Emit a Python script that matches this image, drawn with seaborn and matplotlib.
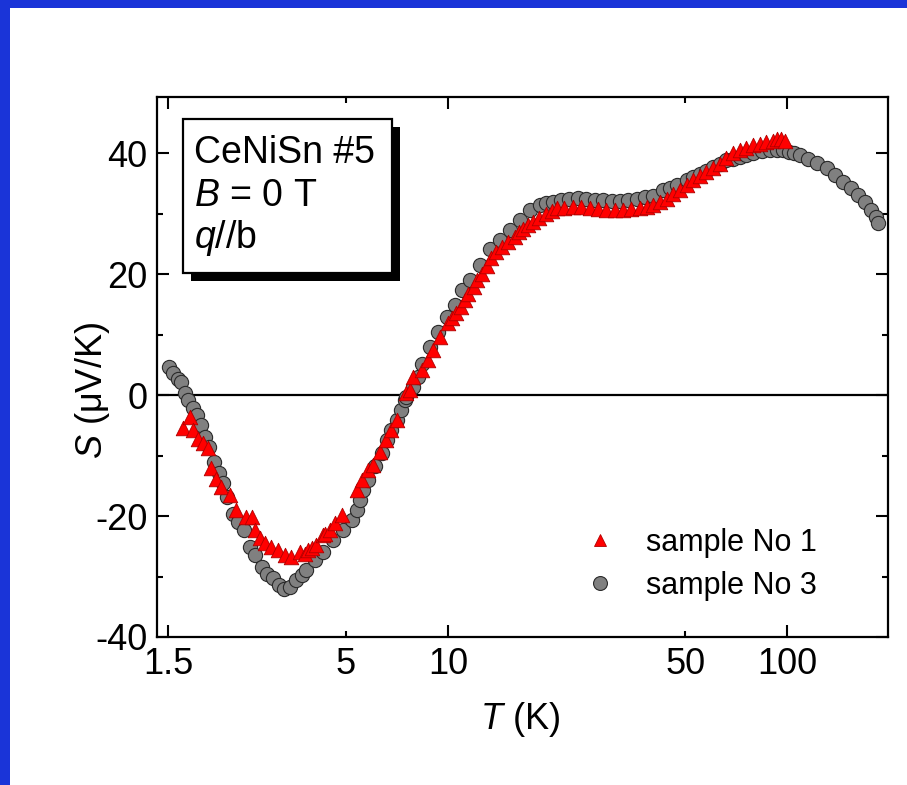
import numpy as np
import pandas as pd
import matplotlib
matplotlib.use("Agg")
import matplotlib.pyplot as plt
from matplotlib.patches import Rectangle
from matplotlib.lines import Line2D
from matplotlib.ticker import FixedLocator, FixedFormatter, NullFormatter
import seaborn as sns

# ---------------- data ----------------
T_s3 = [1.51, 1.55, 1.60, 1.64, 1.68, 1.72, 1.78, 1.82, 1.87, 1.92, 1.98, 2.05, 2.11,
        2.18, 2.24, 2.32, 2.41, 2.51, 2.61, 2.71, 2.83, 2.93, 3.06, 3.17, 3.28, 3.43,
        3.58, 3.71, 3.83, 4.06, 4.29, 4.59, 4.92, 5.21, 5.38, 5.51, 5.63, 5.82, 6.09,
        6.38, 6.60, 6.82, 7.06, 7.30, 7.47, 7.55, 7.90, 8.18, 8.37, 8.85, 9.36, 9.91,
        10.5, 10.97, 11.6, 12.4, 13.3, 14.2, 15.2, 16.3, 17.4, 18.7, 19.5, 20.4, 21.5,
        22.8, 24.2, 25.6, 27.1, 28.7, 30.4, 32.2, 34.0, 36.0, 38.1, 40.3, 43.1, 45.1,
        47.2, 50.5, 52.8, 55.2, 57.8, 60.5, 63.3, 66.2, 69.3, 72.5, 75.7, 79.0, 84.0,
        89.0, 93.0, 97.3, 101.3, 105.0, 108.8, 115.4, 122.0, 130.5, 138.0, 146.0,
        154.0, 161.0, 169.0, 177.0, 183.0, 185.0]
S_s3 = [4.6, 3.6, 2.6, 2.2, 0.3, -0.8, -2.2, -3.3, -5.0, -6.9, -8.5, -11.0, -12.9,
        -14.6, -16.8, -19.6, -20.9, -22.3, -25.1, -26.4, -28.4, -29.5, -30.3, -31.4, -32.1, -31.7,
        -30.6, -29.8, -28.9, -27.3, -25.9, -24.0, -22.3, -20.7, -19.0, -17.4, -15.7, -14.0, -11.8,
        -9.6, -7.4, -5.8, -4.1, -2.5, -0.8, -0.3, 1.4, 3.0, 5.2, 8.0, 10.5, 12.9,
        14.9, 17.4, 19.0, 21.5, 24.2, 25.6, 27.3, 28.9, 30.6, 31.4, 31.7, 31.9, 32.2,
        32.5, 32.6, 32.5, 32.3, 32.2, 32.1, 32.1, 32.3, 32.5, 32.7, 32.9, 34.0, 34.3,
        34.7, 35.5, 36.0, 36.6, 37.1, 37.7, 38.3, 38.8, 39.1, 39.3, 39.7, 40.0, 40.3,
        40.5, 40.5, 40.5, 40.2, 40.0, 39.7, 39.1, 38.4, 37.5, 36.4, 35.3,
        34.2, 33.1, 31.9, 30.6, 29.5, 28.4]

T_s1 = [1.66, 1.74, 1.78, 1.84, 1.90, 1.96, 2.01, 2.08, 2.15, 2.28, 2.38, 2.55, 2.64,
        2.70, 2.79, 2.89, 3.02, 3.16, 3.31, 3.46, 3.66, 3.79, 3.88, 3.97, 4.10, 4.29,
        4.34, 4.49, 4.65, 4.86, 5.38, 5.57, 5.82, 6.02, 6.30, 6.57, 6.82, 7.06, 7.55,
        7.73, 7.90, 8.37, 8.75, 9.05, 9.47, 10.0, 10.3, 10.6, 10.9, 11.2, 11.5, 11.9,
        12.2, 12.6, 13.0, 13.4, 13.9, 14.4, 15.0, 15.8, 16.2, 16.6, 17.2, 17.8, 18.5,
        19.5, 20.2, 20.9, 22.0, 23.4, 24.7, 26.2, 27.7, 29.3, 31.0, 32.8, 34.7, 36.8,
        38.5, 40.3, 42.2, 44.2, 46.2, 48.3, 50.5, 52.8, 55.2, 57.8, 60.4, 63.2, 66.1,
        69.2, 72.5, 75.8, 79.3, 83.0, 86.7, 90.5, 93.0, 96.1, 98.3]
S_s1 = [-5.5, -3.6, -5.8, -7.2, -8.0, -8.8, -12.1, -13.8, -15.2, -16.5, -19.0, -20.1, -20.1,
        -22.3, -23.7, -24.5, -25.1, -25.6, -26.4, -26.7, -25.9, -26.2, -25.6, -25.3, -24.8, -23.1,
        -22.9, -22.3, -21.2, -19.8, -15.7, -14.0, -12.4, -11.6, -9.4, -7.4, -5.8, -4.1, 0.3,
        0.8, 3.0, 4.1, 5.8, 7.4, 9.6, 11.9, 12.8, 13.5, 14.6, 15.7, 16.8, 17.9,
        19.0, 20.1, 21.4, 22.6, 23.6, 24.5, 25.3, 26.2, 26.9, 27.5, 28.1, 28.6, 29.3,
        30.0, 30.5, 30.9, 31.0, 31.1, 31.1, 30.9, 30.8, 30.6, 30.6, 30.6, 30.7, 30.9,
        31.1, 31.4, 31.9, 32.5, 33.2, 33.9, 34.7, 35.5, 36.2, 36.9, 37.6, 38.3, 39.2,
        40.0, 40.5, 40.9, 41.3, 41.6, 41.9, 42.1, 42.3, 42.4, 42.1]

x_major = [1.5, 10, 100]
x_minor = [5, 50]
x_major_labels = ["1.5", "10", "100"]
x_minor_labels = ["5", "50"]
y_major = [-40, -20, 0, 20, 40]
y_minor = [-30, -10, 10, 30]
legend_labels = ["sample No 1", "sample No 3"]
info_lines = ["CeNiSn #5", "$\\mathit{B}$ = 0 T", "$\\mathit{q}$//b"]

df3 = pd.DataFrame({"T": T_s3, "S": S_s3})
df1 = pd.DataFrame({"T": T_s1, "S": S_s1})

# ---------------- style ----------------
sns.set_style("ticks")
plt.rcParams["font.family"] = ["Liberation Sans", "DejaVu Sans"]
plt.rcParams["mathtext.fontset"] = "custom"
plt.rcParams["mathtext.rm"] = "Liberation Sans"
plt.rcParams["mathtext.it"] = "Liberation Sans:italic"
plt.rcParams["axes.unicode_minus"] = False
plt.rcParams["text.color"] = "black"
plt.rcParams["axes.labelcolor"] = "black"
plt.rcParams["xtick.color"] = "black"
plt.rcParams["ytick.color"] = "black"

W, H = 907, 785
fig = plt.figure(figsize=(W / 100, H / 100), dpi=100)
fig.patch.set_facecolor("white")

def fx(px):
    return px / W

def fy(py):
    return 1 - py / H

# blue frame strips
blue = "#1a34d8"
fig.patches.append(Rectangle((0, 0), fx(10), 1, transform=fig.transFigure,
                             facecolor=blue, edgecolor="none", zorder=0))
fig.patches.append(Rectangle((0, fy(8)), 1, fy(0) - fy(8), transform=fig.transFigure,
                             facecolor=blue, edgecolor="none", zorder=0))

ax = fig.add_axes([fx(157), fy(637), fx(888) - fx(157), fy(97) - fy(637)])
ax.set_facecolor("white")

ax.set_xscale("log")
ax.set_xlim(1.39, 198)
ax.set_ylim(-40, 49.3)

ax.axhline(0, color="black", lw=1.6, zorder=1)

sns.scatterplot(data=df3, x="T", y="S", ax=ax, marker="o", s=105,
                color="#808080", edgecolor="#2a2a2a", linewidth=0.8, zorder=2, legend=False)
sns.scatterplot(data=df1, x="T", y="S", ax=ax, marker="^", s=110,
                color="#ff0000", edgecolor="#b00000", linewidth=0.6, zorder=3, legend=False)

# ticks
ax.xaxis.set_major_locator(FixedLocator(x_major))
ax.xaxis.set_major_formatter(FixedFormatter(x_major_labels))
ax.xaxis.set_minor_locator(FixedLocator(x_minor))
ax.xaxis.set_minor_formatter(FixedFormatter(x_minor_labels))
ax.yaxis.set_major_locator(FixedLocator(y_major))
ax.yaxis.set_minor_locator(FixedLocator(y_minor))
ax.yaxis.set_minor_formatter(NullFormatter())

fs = 26
ax.tick_params(which="major", direction="in", length=8.5, width=1.5, top=True, right=True,
               labelsize=fs, pad=7, color="black", labelcolor="black")
ax.tick_params(which="minor", direction="in", length=4.3, width=1.5, top=True, right=True,
               labelsize=fs, pad=7, color="black", labelcolor="black")
for sp in ax.spines.values():
    sp.set_linewidth(1.6)
    sp.set_color("black")
    sp.set_visible(True)

ax.set_xlabel("$\\mathit{T}$ (K)", fontsize=fs, color="black")
ax.set_ylabel("$\\mathit{S}$ (μV/K)", fontsize=fs, color="black")
ax.xaxis.set_label_coords((520 - 157) / 731, (637 - 700) / 540)
ax.yaxis.set_label_coords((112 - 157) / 731, (637 - 390) / 540)

# info box with shadow
bx0, by0, bx1, by1 = 183, 119, 392, 273
off = 8
fig.patches.append(Rectangle((fx(bx0 + off), fy(by1 + off)), fx(bx1 - bx0), fy(by0) - fy(by1),
                             transform=fig.transFigure, facecolor="black", edgecolor="black",
                             lw=0, zorder=5))
fig.patches.append(Rectangle((fx(bx0), fy(by1)), fx(bx1 - bx0), fy(by0) - fy(by1),
                             transform=fig.transFigure, facecolor="white", edgecolor="black",
                             lw=1.6, zorder=6))
for i, line in enumerate(info_lines):
    fig.text(fx(194), fy(163 + 42.5 * i), line, fontsize=27, ha="left", va="baseline",
             color="black", zorder=7)

# legend
handles = [
    Line2D([], [], ls="none", marker="^", markersize=9, markerfacecolor="#ff0000",
           markeredgecolor="#b00000", markeredgewidth=0.6),
    Line2D([], [], ls="none", marker="o", markersize=10, markerfacecolor="#808080",
           markeredgecolor="#2a2a2a", markeredgewidth=0.8),
]
leg = fig.legend(handles, legend_labels, loc="upper left", bbox_to_anchor=(fx(585), fy(528)),
                 frameon=False, fontsize=22, handlelength=1.0, handletextpad=1.0,
                 labelspacing=0.42, borderpad=0, borderaxespad=0)
for t in leg.get_texts():
    t.set_color("black")

fig.savefig("out.png", dpi=100, facecolor="white")
